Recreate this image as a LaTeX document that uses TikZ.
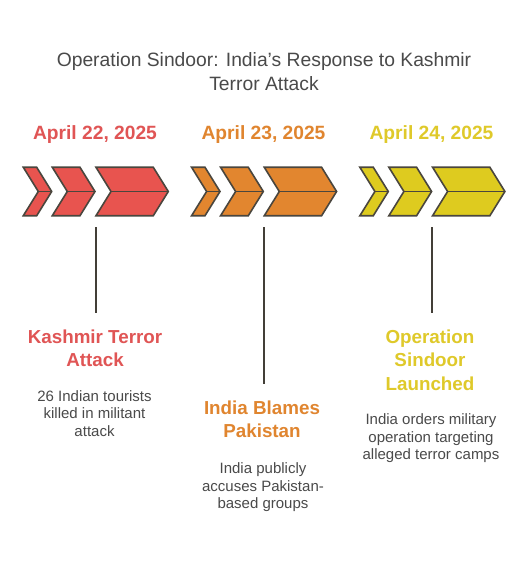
\documentclass[tikz,border=0pt]{standalone}
\usepackage{fontspec}
\setmainfont{Liberation Sans}
\definecolor{cred}{HTML}{E8544F}
\definecolor{cora}{HTML}{E2862F}
\definecolor{cyel}{HTML}{DECB1F}
\definecolor{tred}{HTML}{E05555}
\definecolor{tora}{HTML}{E0852F}
\definecolor{tyel}{HTML}{DFC92A}
\definecolor{stroke}{HTML}{4A463E}
\definecolor{txt}{HTML}{4A4A4A}
\begin{document}
\begin{tikzpicture}[x=1pt,y=-1pt,
  chev/.style={draw=stroke,line width=1.6pt,line join=miter},
  ttl/.style={font=\fontsize{19.3}{24.3}\selectfont,text=txt,align=center,inner sep=0pt,anchor=base},
  datestyle/.style={font=\fontsize{19.2}{22}\selectfont\bfseries,inner sep=0pt,anchor=base},
  head/.style={font=\fontsize{18.8}{23.5}\selectfont\bfseries,align=center,inner sep=0pt,anchor=base},
  desc/.style={font=\fontsize{15}{17.3}\selectfont,text=txt,align=center,inner sep=0pt,anchor=base},
  vline/.style={draw=stroke!90!black,line width=1.6pt}]
\useasboundingbox[fill=white] (0,0) rectangle (528,564);
\node[ttl] (title) at (264,91) {Operation Sindoor: India's Response to Kashmir\\Terror Attack};
\foreach \k/\c in {0/cred,1/cora,2/cyel}{
  \pgfmathsetmacro{\xo}{23.3+168.3*\k}
  \foreach \L/\R in {0/13.4,29/56.7,72.7/130}{
    \fill[\c] (\xo+\L,167.3) -- (\xo+\R,167.3) -- (\xo+\R+15,191.5) -- (\xo+\R,215.7) -- (\xo+\L,215.7) -- (\xo+\L+15,191.5) -- cycle;
    \draw[chev] (\xo+\L,167.3) -- (\xo+\R,167.3) -- (\xo+\R+15,191.5) -- (\xo+\R,215.7) -- (\xo+\L,215.7) -- (\xo+\L+15,191.5) -- cycle;
    \draw[chev] (\xo+\L+15,191.5) -- (\xo+\R+15,191.5);
  }
}
\node[datestyle,text=tred] (d1) at (95,139.3) {April 22, 2025};
\node[datestyle,text=tora] (d2) at (263.5,139.3) {April 23, 2025};
\node[datestyle,text=tyel] (d3) at (431.5,139.3) {April 24, 2025};
\node[head,text=tred] (h1) at (95,366.7) {Kashmir Terror\\Attack};
\node[desc] (t1) at (94.5,436) {26 Indian tourists\\killed in militant\\attack};
\node[head,text=tora] (h2) at (262,437.7) {India Blames\\Pakistan};
\node[desc] (t2) at (263,508.3) {India publicly\\accuses Pakistan-\\based groups};
\node[head,text=tyel] (h3) at (430,390) {Operation\\Sindoor\\Launched};
\node[desc] (t3) at (431,459.5) {India orders military\\operation targeting\\alleged terror camps};
\coordinate (a1) at (96,227.3); \coordinate (b1) at (96,312.7);
\coordinate (a2) at (264,227.3); \coordinate (b2) at (264,384.3);
\coordinate (a3) at (432,227.3); \coordinate (b3) at (432,312.7);
\draw[vline] (a1) -- (b1);
\draw[vline] (a2) -- (b2);
\draw[vline] (a3) -- (b3);
\end{tikzpicture}
\end{document}
